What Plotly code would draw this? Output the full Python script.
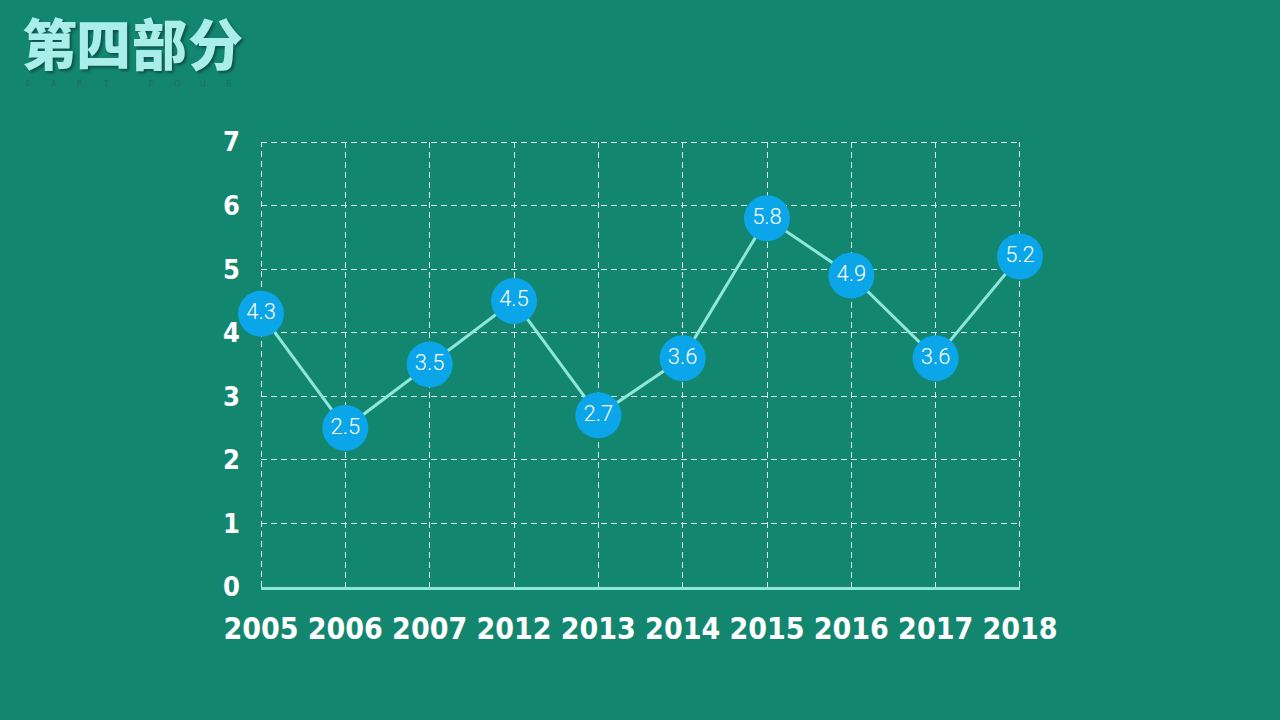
import plotly.graph_objects as go

years = ["2005", "2006", "2007", "2012", "2013", "2014", "2015", "2016", "2017", "2018"]
values = [4.3, 2.5, 3.5, 4.5, 2.7, 3.6, 5.8, 4.9, 3.6, 5.2]
y_ticks = [0, 1, 2, 3, 4, 5, 6, 7]
title_chars = ["第", "四", "部", "分"]
subtitle_chars = ["P", "A", "R", "T", "F", "O", "U", "R"]

BG = "#138670"
LINE = "#8fe6da"
MARK = "#0ba6e9"
GRID = "rgba(255,255,255,0.85)"
DASH = "6px,4px"
bold_font = "DejaVu Sans Condensed, Liberation Sans Narrow, sans-serif"

W, H = 1280, 720
l, r, t, b = 261, 260, 142, 133
pw, ph = W - l - r, H - t - b
def px(xp):
    return (xp - l) / pw
def py(yp):
    return (H - b - yp) / ph

n = len(years)
y_max = y_ticks[-1]

fig = go.Figure()
fig.add_trace(go.Scatter(
    x=list(range(n)), y=values,
    mode="lines+markers+text",
    line=dict(color=LINE, width=3),
    marker=dict(size=46, color=MARK, line=dict(width=0)),
    text=[f"{v:.1f}" for v in values],
    textposition="middle center",
    textfont=dict(family="Roboto, sans-serif", size=22, color="white", weight=300),
    cliponaxis=False,
    hoverinfo="skip",
))

fig.update_layout(
    width=W, height=H,
    paper_bgcolor=BG, plot_bgcolor=BG,
    margin=dict(l=l, r=r, t=t, b=b),
    showlegend=False,
    xaxis=dict(
        range=[0, n - 1],
        tickvals=list(range(n)), ticktext=years,
        showgrid=True, gridcolor=GRID, gridwidth=1, griddash=DASH,
        showline=True, linecolor=LINE, linewidth=3,
        ticks="", ticklabelstandoff=13,
        tickfont=dict(family=bold_font, size=30, color="white", weight="bold"),
        zeroline=False, fixedrange=True,
    ),
    yaxis=dict(
        range=[0, y_max], tickvals=y_ticks,
        showgrid=True, gridcolor=GRID, gridwidth=1, griddash=DASH,
        showline=False, zeroline=False,
        ticks="", ticklabelstandoff=20,
        tickfont=dict(family=bold_font, size=27, color="white", weight="bold"),
        fixedrange=True,
    ),
)

# edge grid lines (plotly omits grid lines at the plot edges); nudged inside by half a pixel
edge = dict(color=GRID, width=1, dash=DASH)
fig.add_shape(type="line", xref="x", yref="y", xsizemode="pixel", xanchor=0,
              x0=0.5, x1=0.5, y0=0, y1=y_max, line=edge, layer="below")
fig.add_shape(type="line", xref="x", yref="y", xsizemode="pixel", xanchor=n - 1,
              x0=-0.5, x1=-0.5, y0=0, y1=y_max, line=edge, layer="below")
fig.add_shape(type="line", xref="x", yref="y", ysizemode="pixel", yanchor=y_max,
              x0=0, x1=n - 1, y0=-0.5, y1=-0.5, line=edge, layer="below")

title_x = [50, 103, 159, 215]
for ch, xc in zip(title_chars, title_x):
    fig.add_annotation(
        text=ch, xref="paper", yref="paper", x=px(xc), y=py(41),
        xanchor="center", yanchor="middle", showarrow=False,
        font=dict(family="Noto Sans CJK SC", size=55, color="#a9eee8", weight=900,
                  shadow="2px 2px 3px rgba(0,0,0,0.4)"),
    )

sub_x = [28, 54, 80, 106, 151, 177, 203, 229]
for ch, xc in zip(subtitle_chars, sub_x):
    fig.add_annotation(
        text=ch, xref="paper", yref="paper", x=px(xc), y=py(85),
        xanchor="center", yanchor="middle", showarrow=False,
        font=dict(family="DejaVu Sans", size=8, color="#266b5d"),
    )

fig.write_html("out.html", config={"displayModeBar": False},
               post_script="document.body.style.margin='0';document.body.style.padding='0';")
